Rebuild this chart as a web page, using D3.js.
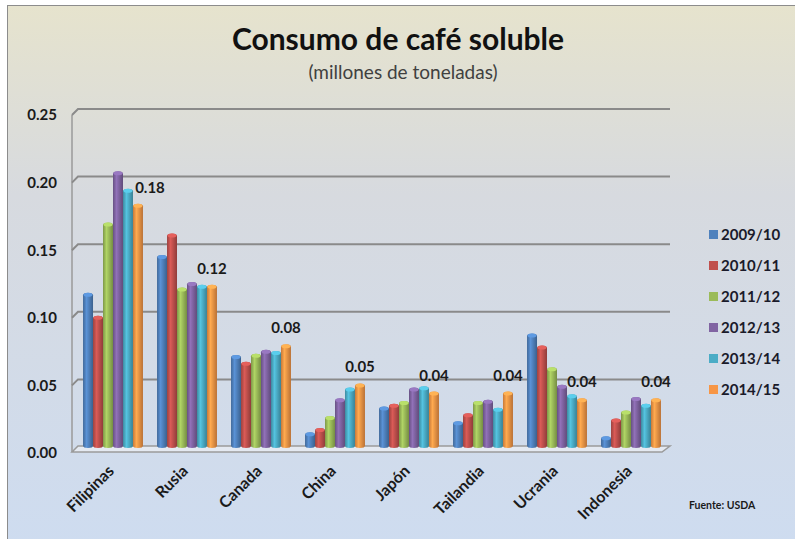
<!DOCTYPE html>
<html>
<head>
<meta charset="utf-8">
<script src="https://cdn.jsdelivr.net/npm/d3@7"></script>
<style>
    body { margin: 0; background: #fff; }
    text { font-family: Lato, 'Open Sans', sans-serif; }
</style>
</head>
<body>
<script>
var countries = ['Filipinas', 'Rusia', 'Canada', 'China', 'Japón', 'Tailandia', 'Ucrania', 'Indonesia'];
var seasons = ['2009/10', '2010/11', '2011/12', '2012/13', '2013/14', '2014/15'];
var v0910 = [0.114, 0.142, 0.068, 0.011, 0.030, 0.019, 0.084, 0.008];
var v1011 = [0.097, 0.158, 0.063, 0.014, 0.032, 0.025, 0.075, 0.021];
var v1112 = [0.166, 0.118, 0.069, 0.023, 0.034, 0.034, 0.059, 0.027];
var v1213 = [0.204, 0.122, 0.072, 0.036, 0.044, 0.035, 0.046, 0.037];
var v1314 = [0.191, 0.120, 0.071, 0.044, 0.045, 0.029, 0.039, 0.032];
var v1415 = [0.180, 0.120, 0.076, 0.047, 0.041, 0.041, 0.036, 0.036];
var colors = ['#4f81bd', '#c0504d', '#9bbb59', '#8064a2', '#4bacc6', '#f79646'];
var yTicks = [0, 0.05, 0.10, 0.15, 0.20, 0.25];

var series = [v0910, v1011, v1112, v1213, v1314, v1415];

var width = 795,
    height = 539,
    depth = 6;

var svg = d3.select('body')
    .append('svg')
    .attr('width', width)
    .attr('height', height);

var defs = svg.append('defs');

var bg = defs.append('linearGradient')
    .attr('id', 'bg')
    .attr('x1', 0).attr('y1', 0).attr('x2', 0).attr('y2', 1);
bg.append('stop').attr('offset', 0).attr('stop-color', '#e6e3cd');
bg.append('stop').attr('offset', 0.35).attr('stop-color', '#d7dadf');
bg.append('stop').attr('offset', 1).attr('stop-color', '#cedcf0');

// cylinder shading for each season
colors.forEach(function(c, i) {
    var g = defs.append('linearGradient')
        .attr('id', 'cyl' + i)
        .attr('x1', 0).attr('y1', 0).attr('x2', 1).attr('y2', 0);
    g.append('stop').attr('offset', 0).attr('stop-color', d3.color(c).darker(0.6));
    g.append('stop').attr('offset', 0.35).attr('stop-color', d3.color(c).brighter(0.35));
    g.append('stop').attr('offset', 1).attr('stop-color', d3.color(c).darker(0.8));
});

svg.append('rect')
    .attr('x', 7.5)
    .attr('y', 5.5)
    .attr('width', width)
    .attr('height', height)
    .attr('fill', 'url(#bg)')
    .attr('stroke', '#8c8c8c');

var x0 = d3.scaleBand()
    .domain(countries)
    .range([76, 668])
    .paddingInner(0.19)
    .paddingOuter(0.095);

var x1 = d3.scaleBand()
    .domain(d3.range(seasons.length))
    .range([0, x0.bandwidth()]);

var y = d3.scaleLinear()
    .domain([0, 0.25])
    .range([447, 109]);

// walls and gridlines
var wallLeft = 72,
    wallRight = 670;

svg.append('path')
    .attr('d', 'M' + (wallLeft + depth) + ',' + (y(0) - 1) + 'L' + wallRight + ',' + (y(0) - 1) +
        'L' + (wallRight - 8) + ',' + (y(0) + 5) + 'L' + wallLeft + ',' + (y(0) + 5) + 'Z')
    .attr('fill', '#e4e9f1')
    .attr('stroke', '#9a9a9a')
    .attr('stroke-width', 1.5);

svg.append('line')
    .attr('x1', wallLeft).attr('x2', wallLeft)
    .attr('y1', y(0.25) + depth).attr('y2', y(0) + 5)
    .attr('stroke', '#9a9a9a')
    .attr('stroke-width', 1.5);

svg.selectAll('.grid')
    .data(yTicks.slice(1))
    .enter()
    .append('path')
    .attr('class', 'grid')
    .attr('d', function(d) {
        return 'M' + wallLeft + ',' + (y(d) + depth) + 'L' + (wallLeft + depth) + ',' + y(d) + 'L' + wallRight + ',' + y(d);
    })
    .attr('fill', 'none')
    .attr('stroke', '#8a8a8a')
    .attr('stroke-width', 2);

// y axis
var yAxis = svg.append('g')
    .attr('transform', 'translate(57,' + depth + ')')
    .call(d3.axisLeft(y).tickValues(yTicks).tickFormat(d3.format('.2f')).tickSize(0).tickPadding(0));
yAxis.select('.domain').remove();
yAxis.selectAll('text')
    .attr('font-family', 'Lato, sans-serif')
    .attr('font-size', 15)
    .attr('font-weight', 'bold')
    .attr('fill', '#1a1a1a');

// bars
var groups = svg.selectAll('.country')
    .data(countries)
    .enter()
    .append('g')
    .attr('class', 'country')
    .attr('transform', function(d) {
        return 'translate(' + x0(d) + ',0)';
    });

groups.selectAll('rect')
    .data(function(d, ci) {
        return series.map(function(s, si) {
            return { si: si, value: s[ci] };
        });
    })
    .enter()
    .append('rect')
    .attr('x', function(d) { return x1(d.si); })
    .attr('y', function(d) { return y(d.value); })
    .attr('width', x1.bandwidth())
    .attr('height', function(d) { return y(0) - y(d.value) + 1; })
    .attr('rx', 5)
    .attr('ry', 2.5)
    .attr('fill', function(d) { return 'url(#cyl' + d.si + ')'; });

groups.selectAll('ellipse')
    .data(function(d, ci) {
        return series.map(function(s, si) {
            return { si: si, value: s[ci] };
        });
    })
    .enter()
    .append('ellipse')
    .attr('cx', function(d) { return x1(d.si) + x1.bandwidth() / 2; })
    .attr('cy', function(d) { return y(d.value) + 2; })
    .attr('rx', x1.bandwidth() / 2 - 0.5)
    .attr('ry', 2)
    .attr('fill', function(d) { return d3.color(colors[d.si]).brighter(0.5); });

// data labels for the last season
svg.selectAll('.label')
    .data(countries)
    .enter()
    .append('text')
    .attr('class', 'label')
    .attr('x', function(d, i) {
        return x0(d) + x1(5) + x1.bandwidth() / 2 + (i === 0 ? 12 : 0);
    })
    .attr('y', function(d, i) { return y(v1415[i]) - 11; })
    .attr('text-anchor', 'middle')
    .attr('font-size', 15)
    .attr('font-weight', 'bold')
    .attr('fill', '#1a1a1a')
    .text(function(d, i) { return d3.format('.2f')(v1415[i]); });

// x axis
var xAxis = svg.append('g')
    .attr('transform', 'translate(0,468)')
    .call(d3.axisBottom(x0).tickSize(0).tickPadding(0));
xAxis.select('.domain').remove();
xAxis.selectAll('text')
    .attr('font-family', 'Lato, sans-serif')
    .attr('font-size', 16)
    .attr('font-weight', 'bold')
    .attr('fill', '#1a1a1a')
    .attr('text-anchor', 'end')
    .attr('dy', '0.35em')
    .attr('transform', 'translate(-2,0) rotate(-45)');

// legend
var legend = svg.selectAll('.legend')
    .data(seasons)
    .enter()
    .append('g')
    .attr('class', 'legend')
    .attr('transform', function(d, i) {
        return 'translate(709,' + (235 + i * 31) + ')';
    });

legend.append('rect')
    .attr('x', 0)
    .attr('y', -5)
    .attr('width', 9)
    .attr('height', 9)
    .attr('fill', function(d, i) { return colors[i]; });

legend.append('text')
    .attr('x', 12)
    .attr('dy', '0.35em')
    .attr('font-size', 15)
    .attr('font-weight', 'bold')
    .attr('fill', '#1a1a2a')
    .text(function(d) { return d; });

// titles
svg.append('text')
    .attr('x', 398)
    .attr('y', 50)
    .attr('text-anchor', 'middle')
    .attr('font-size', 30)
    .attr('font-weight', 'bold')
    .attr('fill', '#111')
    .text('Consumo de café soluble');

svg.append('text')
    .attr('x', 403)
    .attr('y', 79)
    .attr('text-anchor', 'middle')
    .attr('font-size', 19)
    .attr('fill', '#404040')
    .text('(millones de toneladas)');

svg.append('text')
    .attr('x', 689)
    .attr('y', 509)
    .attr('font-size', 10.5)
    .attr('font-weight', 'bold')
    .attr('fill', '#1a1a1a')
    .text('Fuente: USDA');
</script>
</body>
</html>
